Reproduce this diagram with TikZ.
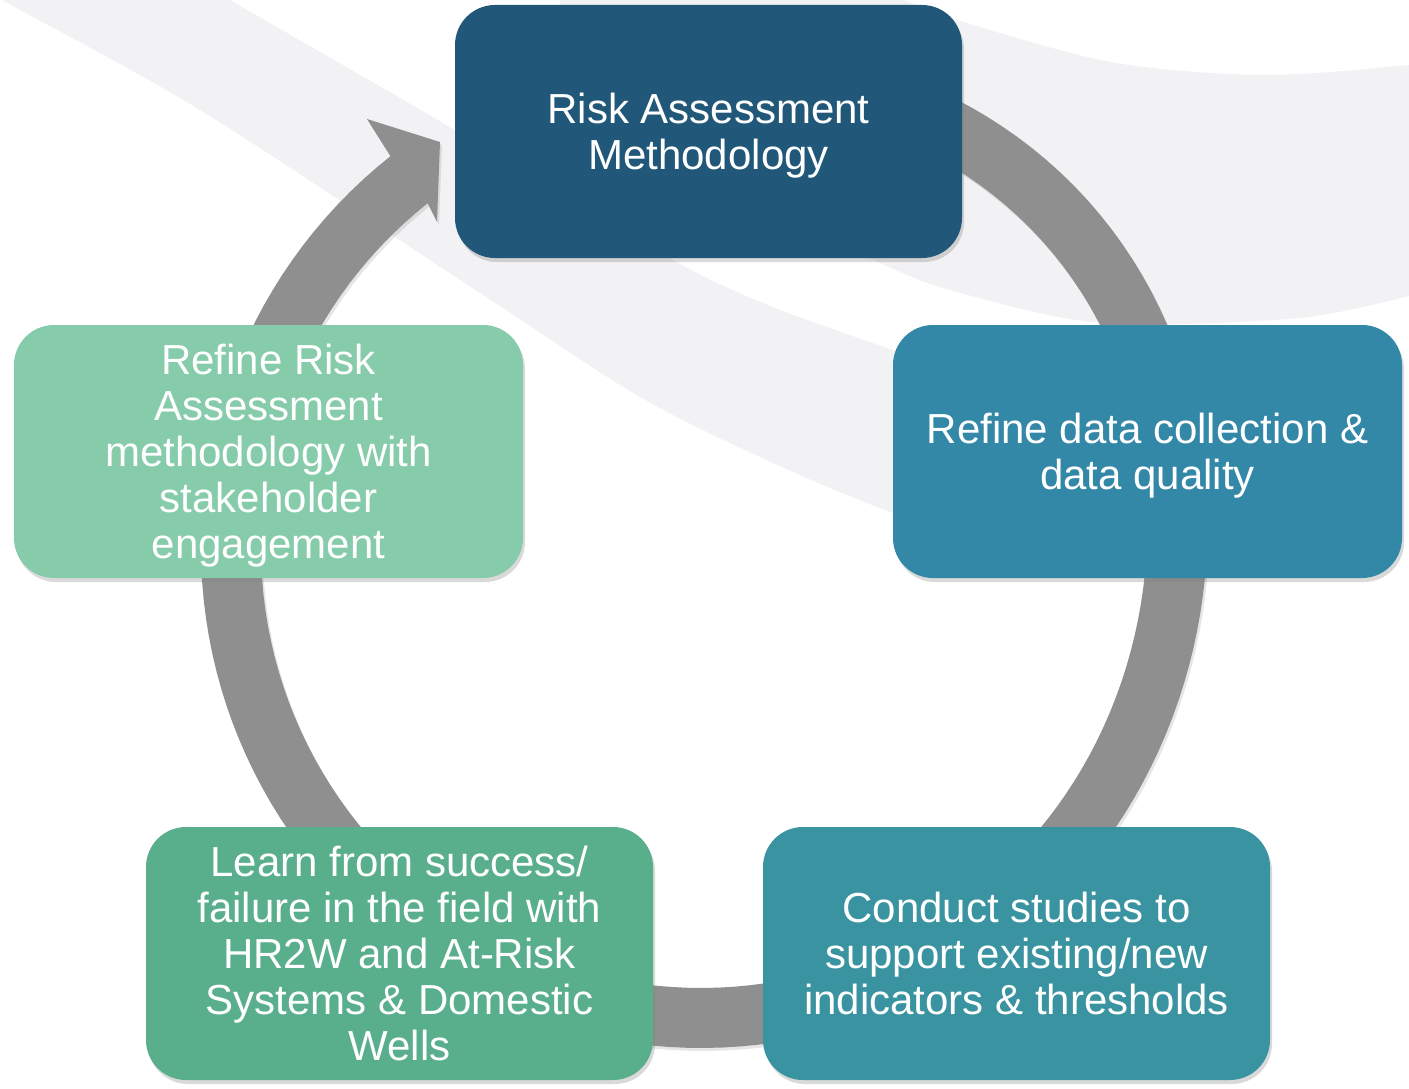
\documentclass[tikz,border=0pt]{standalone}
\usepackage{fontspec}
\setmainfont{Liberation Sans}
\usetikzlibrary{shadows}
\definecolor{swoosh}{RGB}{242,242,244}
\definecolor{ringgray}{RGB}{143,143,143}
\definecolor{boxnavy}{RGB}{33,88,121}
\definecolor{boxblue}{RGB}{51,136,168}
\definecolor{boxteal}{RGB}{58,147,160}
\definecolor{boxgreen}{RGB}{89,175,140}
\definecolor{boxmint}{RGB}{134,203,170}

\tikzset{
    stage/.style={rounded corners=40pt, minimum width=507pt, minimum height=253pt,
        inner sep=0pt, align=center, text=white, text depth=0pt, font=\fontsize{42}{46}\selectfont,
        drop shadow={shadow xshift=2pt, shadow yshift=-4pt, opacity=0.3}},
    declare function={bump(\t)=max(0,cos(\t-42));
        Ro(\t)=500+20*bump(\t)*bump(\t)*bump(\t)*bump(\t);
        Ri(\t)=440+19*bump(\t)*bump(\t)*bump(\t)*bump(\t);}
}

\begin{document}
\begin{tikzpicture}[x=1pt, y=-1pt]
    \useasboundingbox (0,0) rectangle (1409,1089);
    \clip (0,0) rectangle (1409,1089);
    % background swooshes
    \fill[swoosh] plot[smooth] coordinates {(-60,-40) (-5,-4) (200,110) (480,293) (640,397) (773,463) (893,513) (1050,565)}
        -- (1050,400) -- plot[smooth] coordinates {(893,350) (773,307) (673,260) (443,123) (230,0) (180,-30)} -- cycle;
    \fill[swoosh] plot[smooth] coordinates {(1420,64) (1300,74) (1210,73) (1100,60) (957,20) (880,-10)}
        -- (560,-10) -- (560,150) -- plot[smooth] coordinates {(800,225) (880,263) (950,290) (1100,323) (1300,318) (1420,293)} -- cycle;
    % circular arrow
    \fill[ringgray, drop shadow={shadow xshift=2pt, shadow yshift=-3pt, opacity=0.2}]
        plot[domain=75:-231.6, samples=150, variable=\t] ({701+Ro(\t)*cos(\t)}, {548-Ro(\t)*sin(\t)})
        -- (367,119) -- (440,142) -- (437,222)
        -- plot[domain=-231.6:75, samples=150, variable=\t] ({701+Ri(\t)*cos(\t)}, {548-Ri(\t)*sin(\t)}) -- cycle;
    % stages
    \node[stage, fill=boxnavy] (method) at (708.5,131.5) {Risk Assessment\\Methodology};
    \node[stage, fill=boxblue, minimum width=509pt] (data) at (1147.5,451.5) {Refine data collection \&\\data quality};
    \node[stage, fill=boxteal] (studies) at (1016.5,953.5) {Conduct studies to\\support existing/new\\indicators \& thresholds};
    \node[stage, fill=boxgreen] (field) at (399.5,953.5) {Learn from success/\\failure in the field with\\HR2W and At-Risk\\Systems \& Domestic\\Wells};
    \node[stage, fill=boxmint, minimum width=509pt] (refine) at (268.5,451.5) {Refine Risk\\Assessment\\methodology with\\stakeholder\\engagement};
\end{tikzpicture}
\end{document}
